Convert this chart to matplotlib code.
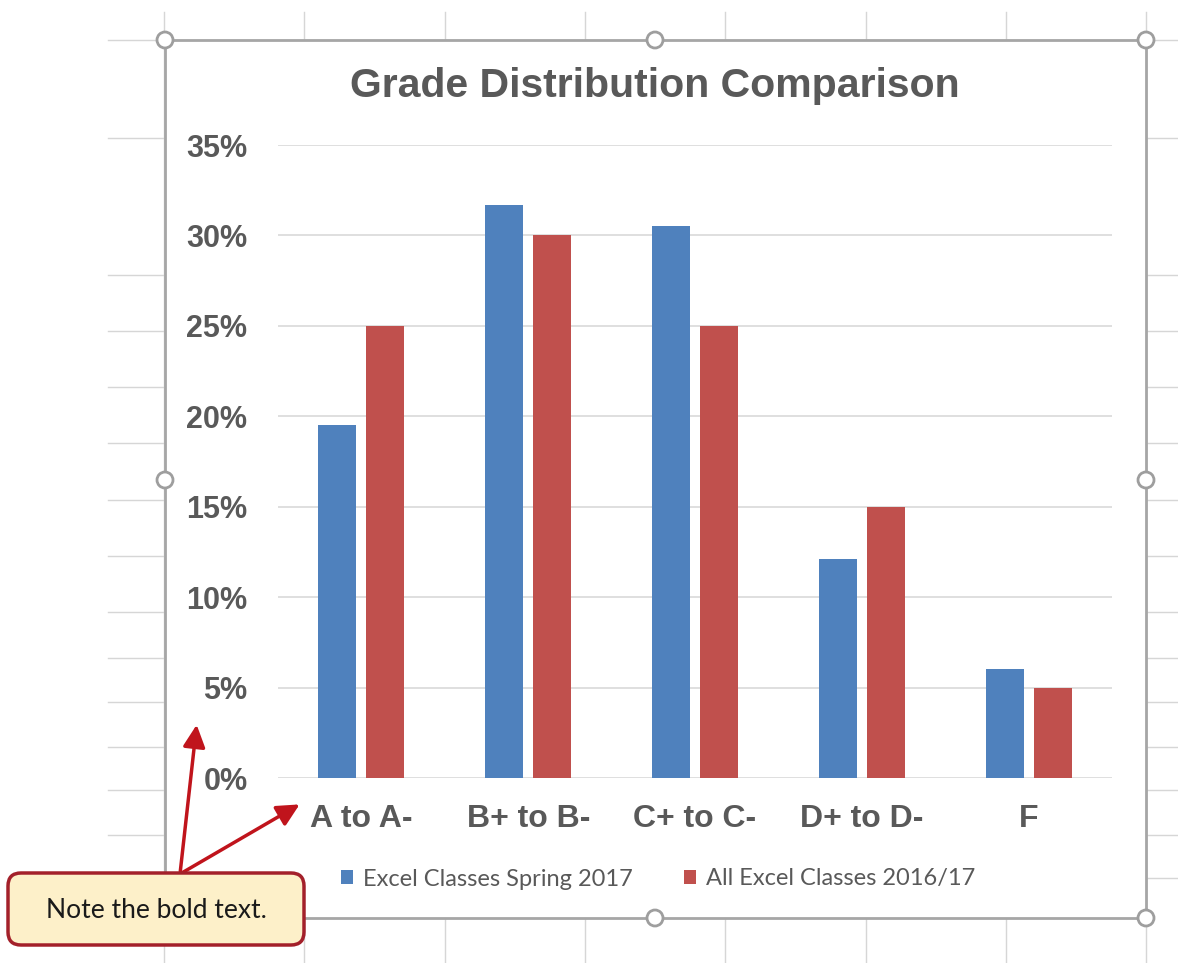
import numpy as np
import matplotlib
matplotlib.use("Agg")
import matplotlib.pyplot as plt
from matplotlib.transforms import Affine2D
from matplotlib.patches import Rectangle, Circle, FancyBboxPatch, FancyArrowPatch
from matplotlib.ticker import PercentFormatter

# data
grades = ["A to A-", "B+ to B-", "C+ to C-", "D+ to D-", "F"]
spring_2017 = [0.195, 0.317, 0.305, 0.121, 0.060]
all_2016_17 = [0.250, 0.300, 0.250, 0.150, 0.050]
series_names = ["Excel Classes Spring 2017", "All Excel Classes 2016/17"]
yticks = [0, 0.05, 0.10, 0.15, 0.20, 0.25, 0.30, 0.35]

W, H = 1178, 963
BLUE = "#4f81bd"
RED = "#c0504d"
GREY_TXT = "#595959"
GRID = "#d9d9d9"

fig = plt.figure(figsize=(W / 100, H / 100), dpi=100)
# pixel coordinates of the screenshot (origin top-left)
pix = Affine2D().scale(1 / W, -1 / H).translate(0, 1) + fig.transFigure

# spreadsheet cell lines behind the chart
col_x = [164, 304, 445, 585, 725, 866, 1006, 1146]
row_y = [40, 138, 275, 331, 387, 443, 500, 556, 612, 658, 702, 747, 790, 835, 878]
for x in col_x:
    fig.add_artist(plt.Line2D([x, x], [12, H], transform=pix, color="#d6d6d6", lw=1, zorder=0))
for y in row_y:
    fig.add_artist(plt.Line2D([108, W], [y, y], transform=pix, color="#d6d6d6", lw=1, zorder=0))

# chart area
fig.add_artist(Rectangle((165, 40), 981, 878, transform=pix, facecolor="white",
                         edgecolor="#a6a6a6", lw=2, zorder=1))

ax = fig.add_axes([278 / W, 1 - 778 / H, 834 / W, 633 / H], zorder=2)
ax.set_facecolor("none")

x = np.arange(len(grades))
w = 0.228
off = 0.144
ax.bar(x - off, spring_2017, w, color=BLUE, label=series_names[0], zorder=3)
ax.bar(x + off, all_2016_17, w, color=RED, label=series_names[1], zorder=3)

ax.set_xlim(-0.5, len(grades) - 0.5)
ax.set_ylim(0, 0.35)
ax.set_yticks(yticks)
ax.yaxis.set_major_formatter(PercentFormatter(1, decimals=0))
ax.set_xticks(x)
ax.set_xticklabels(grades)
ax.grid(axis="y", color=GRID, lw=1.2, zorder=0)
for s in ax.spines.values():
    s.set_visible(False)
ax.tick_params(axis="y", length=0, pad=22, labelsize=22, labelcolor=GREY_TXT)
ax.tick_params(axis="x", length=0, pad=19, labelsize=23, labelcolor=GREY_TXT)
for lab in ax.get_xticklabels() + ax.get_yticklabels():
    lab.set_fontfamily("Liberation Sans")
    lab.set_fontweight("bold")

fig.text(655, 86, "Grade Distribution Comparison", transform=pix, ha="center", va="center",
         fontsize=29.5, fontweight="bold", color=GREY_TXT, family="Liberation Sans", zorder=3)

h, l = ax.get_legend_handles_labels()
fig.legend(h, l, loc="center", bbox_to_anchor=(658, 879), bbox_transform=pix, ncol=2,
           frameon=False, prop={"family": "Lato", "size": 17}, labelcolor=GREY_TXT,
           handlelength=0.52, handleheight=0.52, handletextpad=0.42, columnspacing=2.15)

# selection handles
for cx, cy in [(165, 40), (655, 40), (1146, 40), (165, 480), (1146, 480),
               (655, 918), (1146, 918), (165, 918)]:
    fig.add_artist(Circle((cx, cy), 8, transform=pix, facecolor="white",
                          edgecolor="#9e9e9e", lw=2, zorder=4))

# callout
for tip in [(197, 722), (302, 803)]:
    fig.add_artist(FancyArrowPatch((180, 874), tip, transform=pix, color="#c0141c",
                                   arrowstyle="-|>,head_length=0.9,head_width=0.45",
                                   mutation_scale=15, lw=2.5, zorder=5))
fig.add_artist(FancyBboxPatch((8, 873), 296, 72, boxstyle="round,pad=0,rounding_size=13",
                              transform=pix, facecolor="#fdf0c9", edgecolor="#a3202a",
                              lw=2.5, zorder=6))
fig.text(156, 911, "Note the bold text.", transform=pix, ha="center", va="center",
         fontsize=19, color="#1a1a1a", family="Lato", zorder=7)

fig.savefig("out.png", dpi=100)
